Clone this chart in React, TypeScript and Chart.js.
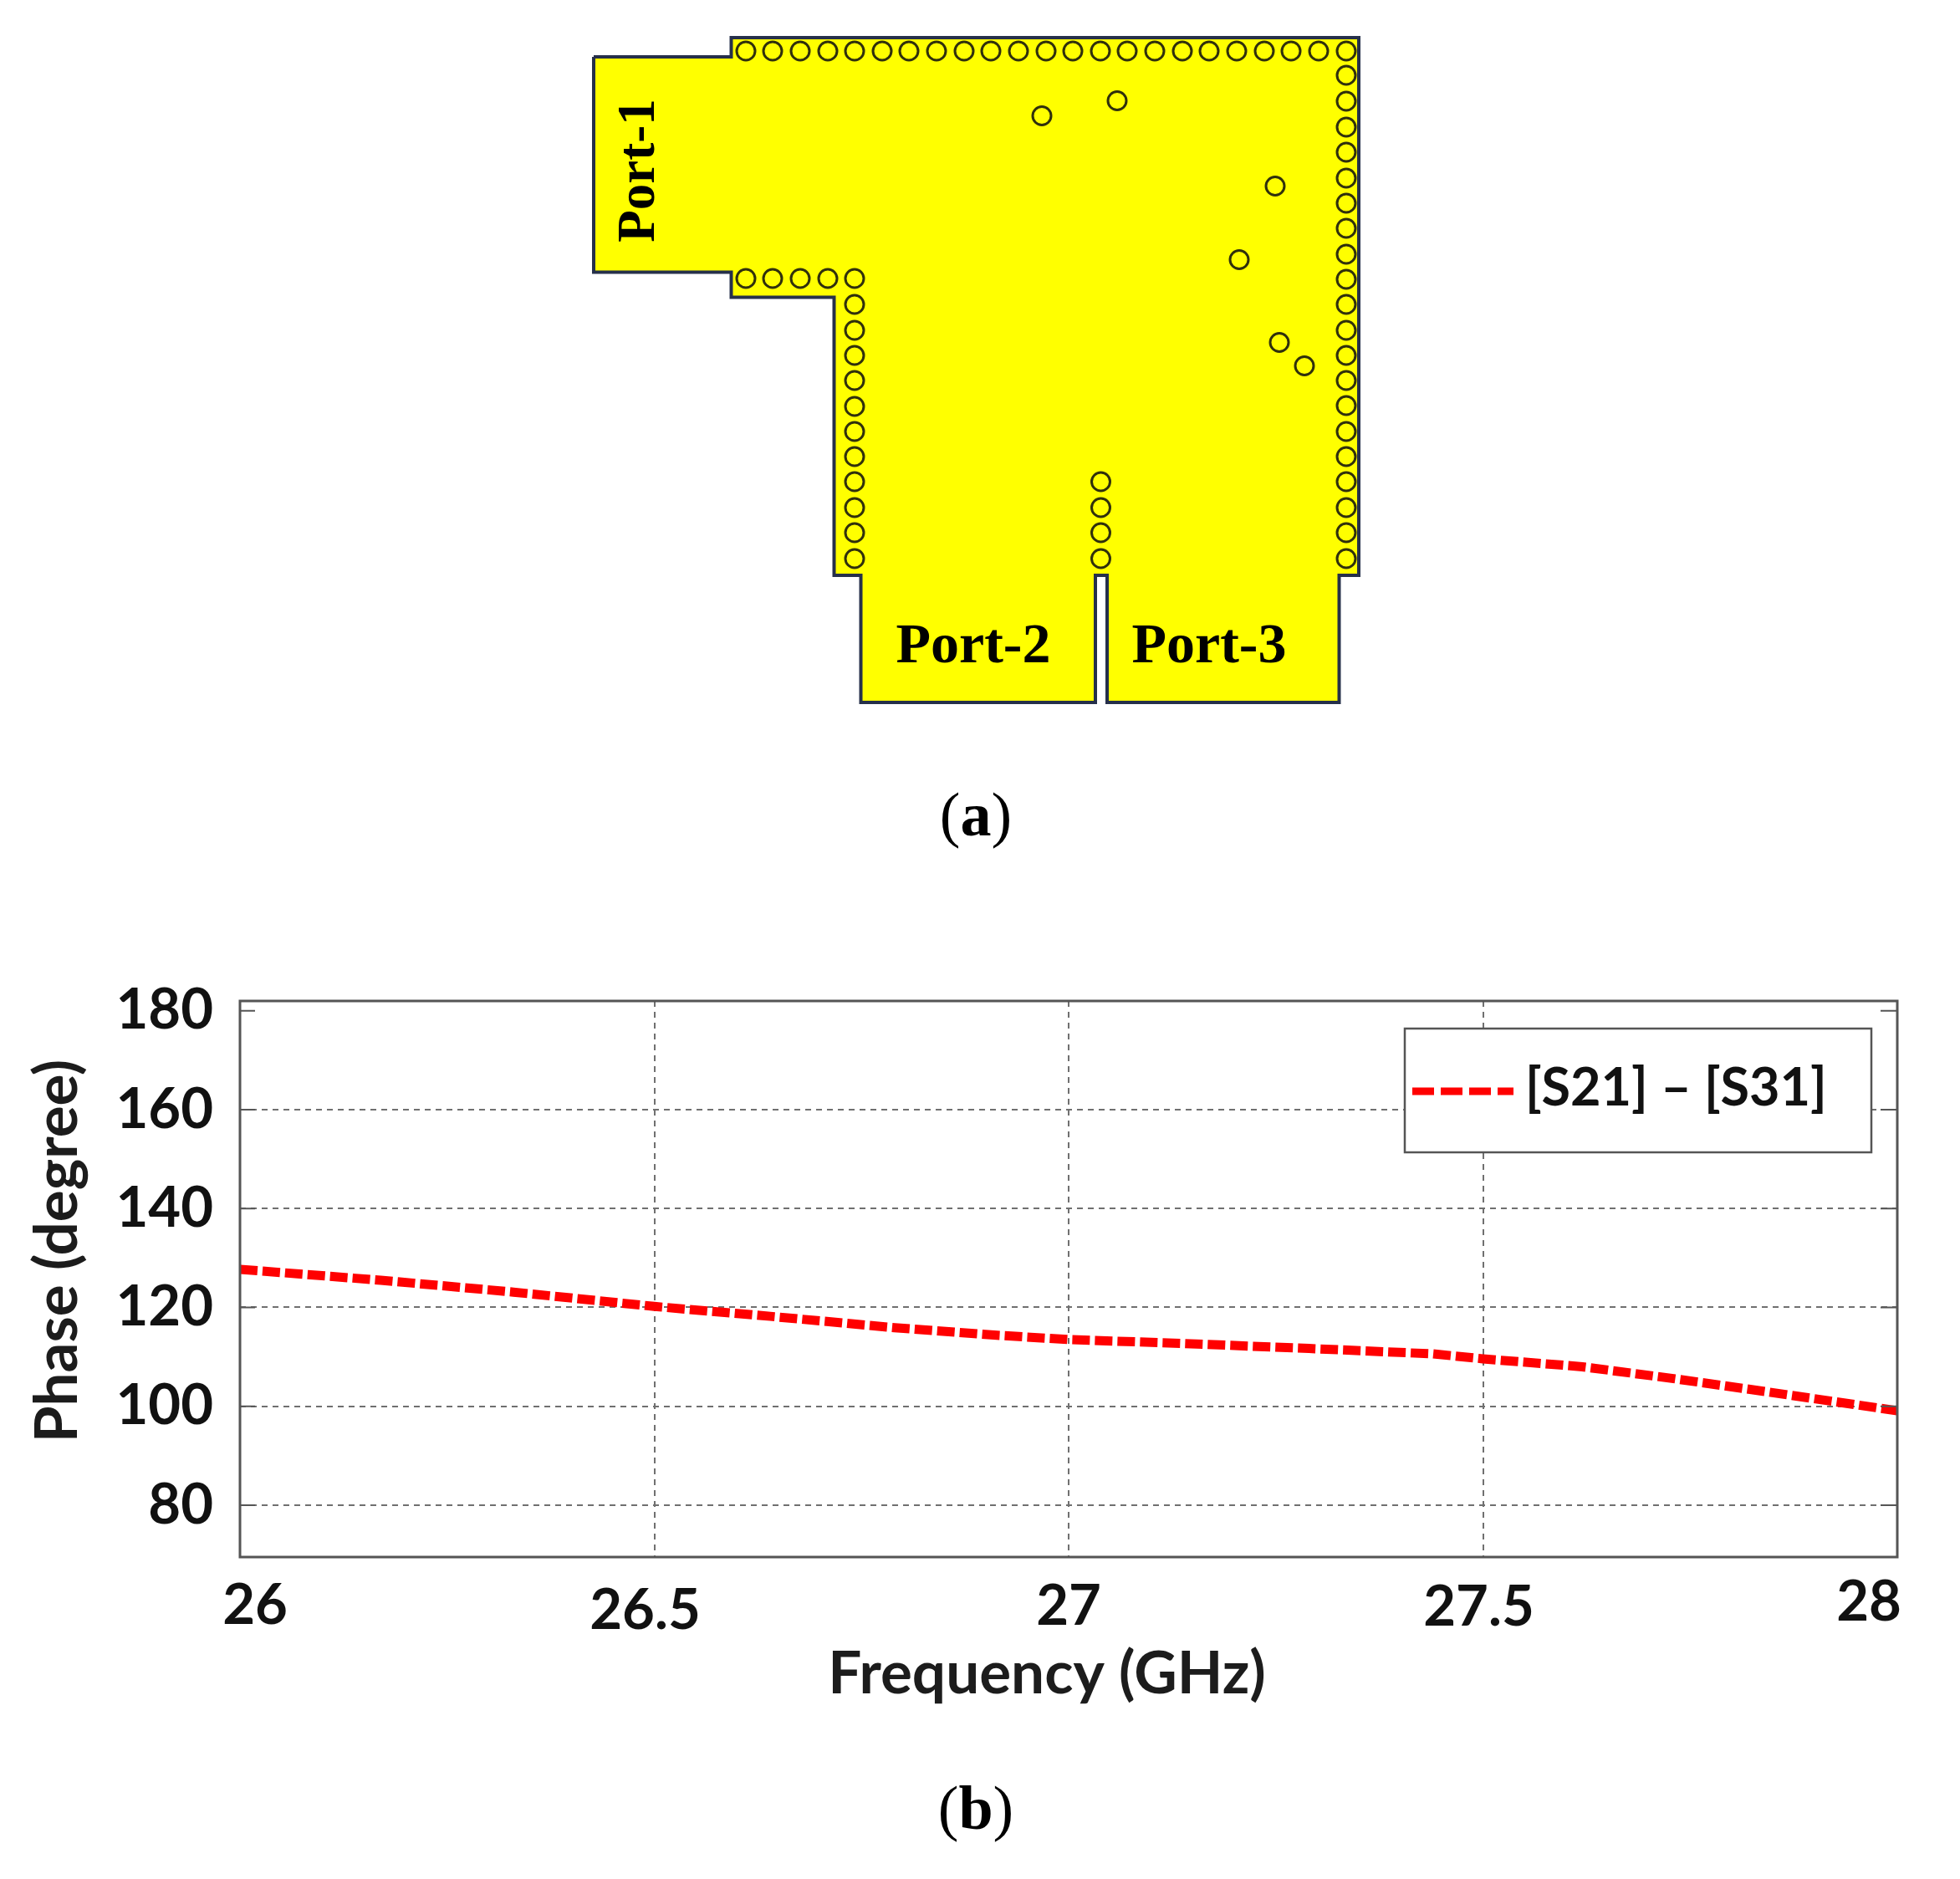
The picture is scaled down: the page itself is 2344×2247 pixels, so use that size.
/**
 * Power divider figure: (a) the waveguide layout and (b) the phase difference
 * between the two output ports. Both panels are Chart.js scatter/line charts.
 */

import { useEffect, useRef } from 'react';
import Chart from 'chart.js/auto';

// Panel (b): phase curve
const frequency = [26, 26.17, 26.33, 26.5, 26.64, 26.79, 26.91, 27, 27.14, 27.29, 27.44, 27.5, 27.62, 27.73, 27.84, 28];
const phase = [127.7, 125.5, 123.1, 120.2, 118.2, 115.9, 114.4, 113.5, 112.7, 111.7, 110.6, 109.6, 108, 105.6, 103, 99.1];
const xTicks = [26, 26.5, 27, 27.5, 28];
const xTickLabels = ['26', '26.5', '27', '27.5', '28'];
const yTicks = [80, 100, 120, 140, 160, 180];
const seriesName = '[S21] \u2013 [S31]';

// Panel (a): substrate outline in layout units
const topEdgeX = [710, 874.5, 874.5, 1625];
const topEdgeY = [68, 68, 45, 45];
const bottomEdgeX = [710, 874.5, 874.5, 997.5, 997.5, 1029.5, 1029.5, 1310, 1310, 1324, 1324, 1601.5, 1601.5, 1625];
const bottomEdgeY = [325.5, 325.5, 355.5, 355.5, 688, 688, 840, 840, 688, 688, 840, 840, 688, 688];

// Panel (a): via holes in layout units
const viaX = [
  892, 924, 957, 990, 1022, 1055, 1087, 1120, 1153, 1185, 1218, 1251, 1283, 1316, 1348, 1381, 1414, 1446, 1479, 1512, 1544, 1577, 1610,
  1610, 1610, 1610, 1610, 1610, 1610, 1610, 1610, 1610, 1610, 1610, 1610, 1610, 1610, 1610, 1610, 1610, 1610, 1610, 1610,
  892, 924, 957, 990, 1022, 1022, 1022, 1022, 1022, 1022, 1022, 1022, 1022, 1022, 1022, 1022,
  1316.5, 1316.5, 1316.5, 1316.5,
  1246, 1336, 1525, 1482, 1530, 1560,
];
const viaY = [
  61, 61, 61, 61, 61, 61, 61, 61, 61, 61, 61, 61, 61, 61, 61, 61, 61, 61, 61, 61, 61, 61, 61,
  90, 121, 152, 182, 213, 243, 273, 304, 334, 364, 395, 425, 455, 485, 516, 546, 576, 607, 637, 668,
  333, 333, 333, 333, 333, 364, 395, 425, 455, 486, 516, 546, 576, 607, 637, 668,
  576, 607, 637, 668,
  138.5, 120.5, 222.5, 310.5, 409.5, 437.5,
];

const WIDTH = 2344;
const HEIGHT = 2247;
const SPLIT = 1100; // page row where panel (b)'s canvas starts
const SANS = 'Lato, "Open Sans", sans-serif';
const SERIF = '"Liberation Serif", serif';

// Hand placement of the x tick labels, which are not centred in the source figure
const xTickShift = [18, -11, 0, -5, -34];
const xTickDrop = [58, 64, 59, 60, 54];

const zip = (xs: number[], ys: number[]) => xs.map((x, i) => ({ x, y: ys[i] }));

// Frame, inward ticks, x tick labels, axis titles and the legend box of panel (b)
const phaseDecorations = {
  id: 'phaseDecorations',
  afterDraw(chart: any) {
    const { ctx, chartArea: area, scales } = chart;
    ctx.save();

    ctx.strokeStyle = '#555555';
    ctx.lineWidth = 3;
    ctx.setLineDash([]);
    ctx.strokeRect(area.left, area.top, area.right - area.left, area.bottom - area.top);

    ctx.lineWidth = 2;
    yTicks.forEach((v) => {
      const y = scales.y.getPixelForValue(v);
      ctx.beginPath();
      ctx.moveTo(area.left, y);
      ctx.lineTo(area.left + 18, y);
      ctx.moveTo(area.right - 20, y);
      ctx.lineTo(area.right, y);
      ctx.stroke();
    });

    ctx.fillStyle = '#111111';
    ctx.textAlign = 'center';
    ctx.textBaseline = 'middle';
    ctx.font = `bold 67px ${SANS}`;
    xTicks.forEach((v, i) => {
      ctx.fillText(xTickLabels[i], scales.x.getPixelForValue(v) + xTickShift[i], area.bottom + xTickDrop[i]);
    });

    ctx.font = `bold 71px ${SANS}`;
    ctx.fillStyle = '#1c1c1c';
    ctx.fillText('Frequency (GHz)', area.left + 965, area.bottom + 140);
    ctx.save();
    ctx.translate(69, area.top + 299);
    ctx.rotate(-Math.PI / 2);
    ctx.fillText('Phase (degree)', 0, 0);
    ctx.restore();

    // Legend
    const box = { left: 1680, top: 130, width: 558, height: 148 };
    ctx.fillStyle = '#ffffff';
    ctx.fillRect(box.left, box.top, box.width, box.height);
    ctx.strokeStyle = '#555555';
    ctx.lineWidth = 2.5;
    ctx.strokeRect(box.left, box.top, box.width, box.height);
    ctx.strokeStyle = '#ff0000';
    ctx.lineWidth = 9;
    ctx.setLineDash([26, 8]);
    ctx.beginPath();
    ctx.moveTo(box.left + 9, box.top + 75);
    ctx.lineTo(box.left + 130, box.top + 75);
    ctx.stroke();
    ctx.fillStyle = '#111111';
    ctx.textAlign = 'left';
    ctx.font = `bold 63px ${SANS}`;
    ctx.fillText(seriesName, box.left + 144, box.top + 72);

    ctx.restore();
  },
};

// Port names on panel (a)
const portNames = {
  id: 'portNames',
  afterDraw(chart: any) {
    const { ctx, scales } = chart;
    ctx.save();
    ctx.fillStyle = '#000000';
    ctx.textAlign = 'center';
    ctx.textBaseline = 'middle';
    ctx.font = `bold 68px ${SERIF}`;
    ctx.fillText('Port-2', scales.x.getPixelForValue(1164), scales.y.getPixelForValue(774));
    ctx.fillText('Port-3', scales.x.getPixelForValue(1446), scales.y.getPixelForValue(774));
    ctx.font = `bold 63px ${SERIF}`;
    ctx.translate(scales.x.getPixelForValue(766), scales.y.getPixelForValue(204));
    ctx.rotate(-Math.PI / 2);
    ctx.fillText('Port-1', 0, 0);
    ctx.restore();
  },
};

function LayoutPanel() {
  const canvasRef = useRef<HTMLCanvasElement>(null);

  useEffect(() => {
    if (!canvasRef.current) return;

    const top = zip(topEdgeX, topEdgeY);
    const bottom = zip(bottomEdgeX, bottomEdgeY);
    // Whole outline, walked once around
    const outline = [...top, ...[...bottom].reverse(), top[0]];

    const chart = new Chart(canvasRef.current, {
      type: 'scatter',
      data: {
        datasets: [
          {
            label: 'Vias',
            data: zip(viaX, viaY),
            pointRadius: 11,
            pointBorderWidth: 3,
            pointBorderColor: '#30300c',
            pointBackgroundColor: 'rgba(0, 0, 0, 0)',
            order: 0,
          },
          {
            label: 'Outline',
            data: outline,
            showLine: true,
            borderColor: '#26304a',
            borderWidth: 4,
            pointRadius: 0,
            order: 1,
          },
          {
            label: 'Top edge',
            data: top,
            showLine: true,
            borderWidth: 0,
            pointRadius: 0,
            backgroundColor: '#ffff00',
            fill: '+1',
            order: 2,
          },
          {
            label: 'Bottom edge',
            data: bottom,
            showLine: true,
            borderWidth: 0,
            pointRadius: 0,
            order: 3,
          },
        ] as any,
      },
      options: {
        animation: false,
        responsive: false,
        devicePixelRatio: 1,
        layout: { autoPadding: false },
        scales: {
          x: { type: 'linear', display: false, min: 0, max: WIDTH },
          y: { type: 'linear', display: false, min: 0, max: SPLIT, reverse: true },
        },
        plugins: { legend: { display: false }, tooltip: { enabled: false } },
      },
      plugins: [portNames],
    });

    return () => chart.destroy();
  }, []);

  return <canvas ref={canvasRef} width={WIDTH} height={SPLIT} style={{ position: 'absolute', left: 0, top: 0 }} />;
}

function PhasePanel() {
  const canvasRef = useRef<HTMLCanvasElement>(null);

  useEffect(() => {
    if (!canvasRef.current) return;

    const gridDash = [7, 6];
    const chart = new Chart(canvasRef.current, {
      type: 'line',
      data: {
        datasets: [
          {
            label: seriesName,
            data: zip(frequency, phase),
            borderColor: '#ff0000',
            borderWidth: 11,
            borderDash: [21, 6],
            pointRadius: 0,
            tension: 0,
          },
        ],
      },
      options: {
        animation: false,
        responsive: false,
        devicePixelRatio: 1,
        layout: { padding: { top: 97, right: 75, left: 0, bottom: 0 } },
        scales: {
          x: {
            type: 'linear',
            min: 26,
            max: 28,
            afterBuildTicks: (scale: any) => {
              scale.ticks = xTicks.map((value) => ({ value }));
            },
            afterFit: (scale: any) => {
              scale.height = 385;
            },
            ticks: { display: false },
            grid: { color: '#707070', lineWidth: 2, drawTicks: false },
            border: { display: false, dash: gridDash },
          },
          y: {
            type: 'linear',
            min: 69.5,
            max: 182,
            afterBuildTicks: (scale: any) => {
              scale.ticks = yTicks.map((value) => ({ value }));
            },
            afterFit: (scale: any) => {
              scale.width = 287;
            },
            ticks: {
              color: '#111111',
              padding: 32,
              font: { family: SANS, size: 67, weight: 'bold' },
            },
            grid: {
              color: (ctx: any) => (ctx.tick?.value === 180 ? 'rgba(0, 0, 0, 0)' : '#707070'),
              lineWidth: 2,
              drawTicks: false,
            },
            border: { display: false, dash: gridDash },
          },
        },
        plugins: { legend: { display: false }, tooltip: { enabled: false } },
      },
      plugins: [phaseDecorations],
    });

    return () => chart.destroy();
  }, []);

  return <canvas ref={canvasRef} width={WIDTH} height={HEIGHT - SPLIT} style={{ position: 'absolute', left: 0, top: SPLIT }} />;
}

function Caption({ letter, top }: { letter: string; top: number }) {
  return (
    <div
      style={{
        position: 'absolute',
        left: -5,
        width: WIDTH,
        top,
        textAlign: 'center',
        fontFamily: SERIF,
        fontSize: 74,
        lineHeight: '80px',
        color: '#000',
      }}
    >
      (<b>{letter}</b>)
    </div>
  );
}

export default function App() {
  useEffect(() => {
    document.body.style.margin = '0';
  }, []);

  return (
    <div style={{ position: 'absolute', left: 0, top: 0, width: WIDTH, height: HEIGHT, overflow: 'hidden', background: '#fff' }}>
      <LayoutPanel />
      <PhasePanel />
      <Caption letter="a" top={934} />
      <Caption letter="b" top={2122} />
    </div>
  );
}
